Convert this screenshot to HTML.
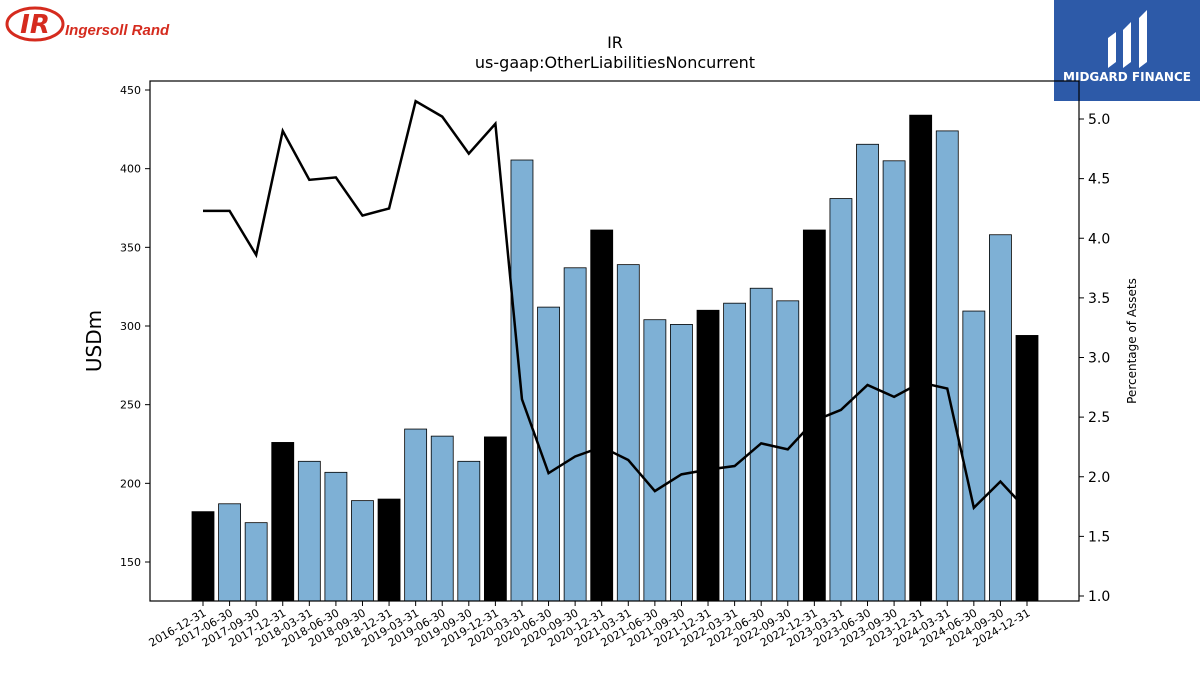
<!DOCTYPE html>
<html><head><meta charset="utf-8"><style>
body{margin:0;background:#fff;font-family:"Liberation Sans","DejaVu Sans",sans-serif}
#wrap{position:relative;width:1200px;height:675px;overflow:hidden}
</style></head><body>
<div id="wrap">
<svg id="chart" width="1200" height="675" font-family="DejaVu Sans, Liberation Sans, sans-serif">
<g>
<ellipse cx="35" cy="24" rx="28" ry="16" fill="none" stroke="#d52b1e" stroke-width="3"/>
<text x="35" y="33" text-anchor="middle" font-size="26" font-weight="bold" font-style="italic" fill="#d52b1e">IR</text>
<text x="65" y="35" font-size="15" font-style="italic" font-weight="bold" fill="#d52b1e" font-family="Liberation Sans, sans-serif">Ingersoll Rand</text>
</g>
<g>
<rect x="1054" y="0" width="146" height="101" fill="#2d5aa8"/>
<path d="M1108 68 L1108 38 L1116 32 L1116 62 Z M1123 68 L1123 30 L1131 22 L1131 62 Z M1139 68 L1139 18 L1147 10 L1147 62 Z" fill="#fff"/>
<text x="1127" y="81" text-anchor="middle" font-size="12" font-weight="bold" fill="#fff">MIDGARD FINANCE</text>
</g>
<text x="615" y="48" text-anchor="middle" font-size="16">IR</text>
<text x="615" y="68" text-anchor="middle" font-size="16">us-gaap:OtherLiabilitiesNoncurrent</text>
<text transform="translate(101,341) rotate(-90)" text-anchor="middle" font-size="20">USDm</text>
<text transform="translate(1136,341) rotate(-90)" text-anchor="middle" font-size="12">Percentage of Assets</text>
<g id="bars"></g><g id="line"></g><g id="axes"></g>
</svg>
</div>
<script>
const categories=["2016-12-31","2017-06-30","2017-09-30","2017-12-31","2018-03-31","2018-06-30","2018-09-30","2018-12-31","2019-03-31","2019-06-30","2019-09-30","2019-12-31","2020-03-31","2020-06-30","2020-09-30","2020-12-31","2021-03-31","2021-06-30","2021-09-30","2021-12-31","2022-03-31","2022-06-30","2022-09-30","2022-12-31","2023-03-31","2023-06-30","2023-09-30","2023-12-31","2024-03-31","2024-06-30","2024-09-30","2024-12-31"];
const barValues=[182,187,175,226,214,207,189,190,234.5,230,214,229.5,405.5,312,337,361,339,304,301,310,314.5,324,316,361,381,415.5,405,434,424,309.5,358,294];
const pctValues=[4.23,4.23,3.86,4.90,4.49,4.51,4.19,4.25,5.15,5.02,4.71,4.96,2.65,2.03,2.17,2.25,2.14,1.88,2.02,2.06,2.09,2.28,2.23,2.47,2.56,2.77,2.67,2.79,2.74,1.74,1.96,1.72];
const leftTicks=[150,200,250,300,350,400,450];
const rightTicks=[1.0,1.5,2.0,2.5,3.0,3.5,4.0,4.5,5.0];
const NS="http://www.w3.org/2000/svg";
const L=150,R=1079,T=81,B=601;
const yL=v=>562-(v-150)*472/300;
const yR=v=>596-(v-1)*477/4;
const xC=i=>203+i*(1027-203)/(categories.length-1);
function mk(tag,attrs,parent){const e=document.createElementNS(NS,tag);for(const k in attrs)e.setAttribute(k,attrs[k]);parent.appendChild(e);return e;}
const gb=document.getElementById('bars'),gl=document.getElementById('line'),ga=document.getElementById('axes');
barValues.forEach((v,i)=>{
 const black=categories[i].endsWith('12-31');
 const r=mk('rect',{x:xC(i)-11,y:yL(v),width:22,height:B-yL(v),fill:black?'#000':'#7eb0d5',stroke:'#000','stroke-width':0.8},gb);
 
 
});
const pl=mk('polyline',{points:pctValues.map((v,i)=>xC(i)+','+yR(v)).join(' '),fill:'none',stroke:'#000','stroke-width':2.5},gl);


const fr=mk('rect',{x:L,y:T,width:R-L,height:B-T,fill:'none',stroke:'#000','stroke-width':1.2},ga);


leftTicks.forEach(v=>{
 mk('line',{x1:L-5,x2:L,y1:yL(v),y2:yL(v),stroke:'#000'},ga);
 const t=mk('text',{x:L-9,y:yL(v)+4,'text-anchor':'end','font-size':11},ga);t.textContent=v;
 
 
});
rightTicks.forEach(v=>{
 mk('line',{x1:R,x2:R+5,y1:yR(v),y2:yR(v),stroke:'#000'},ga);
 const t=mk('text',{x:R+9,y:yR(v)+5,'font-size':14},ga);t.textContent=v.toFixed(1);
 
 
});
categories.forEach((c,i)=>{
 mk('line',{x1:xC(i),x2:xC(i),y1:B,y2:B+5,stroke:'#000'},ga);
 const t=mk('text',{transform:`translate(${xC(i)+4},${B+14}) rotate(-30)`,'text-anchor':'end','font-size':11},ga);t.textContent=c;
 
 
});
</script>
</body></html>
